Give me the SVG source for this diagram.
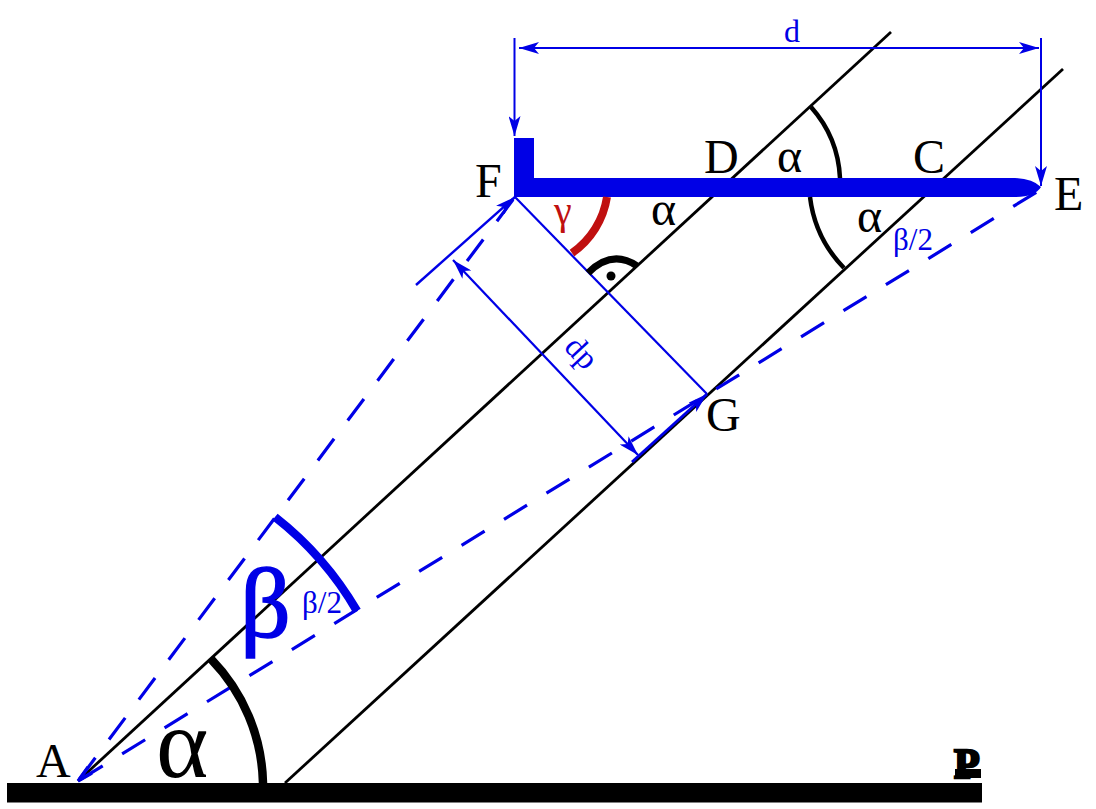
<svg xmlns="http://www.w3.org/2000/svg" width="1096" height="809" viewBox="0 0 1096 809">
<style>
text{font-family:"Liberation Serif","Times New Roman",serif}
.lbl{font-size:48px;fill:#000}
.blue{fill:#0000e6}
.thin{fill:none;stroke:#000;stroke-width:2.8}
.arc{fill:none;stroke:#000}
.dim{fill:none;stroke:#0000e6;stroke-width:1.8;marker-end:url(#ah)}
.dash{fill:none;stroke:#0000e6;stroke-width:3.2;stroke-dasharray:27 22.8;stroke-dashoffset:-2}
</style>
<defs>
<marker id="ah" viewBox="0 0 20 12" refX="20" refY="6" markerUnits="userSpaceOnUse" markerWidth="20" markerHeight="12" orient="auto-start-reverse">
<path d="M0 0L20 6L0 12L5 6Z" fill="#0000e6"/>
</marker>
</defs>
<rect width="1096" height="809" fill="#fff"/>
<g id="ground"><rect x="7" y="783" width="975" height="19.5" fill="#000"/></g>
<g id="connectors">
<path class="thin" d="M78 781L891 32"/>
<path class="thin" d="M285 783L1063 69"/>
<path class="dash" d="M78 781L515 197"/>
<path class="dash" d="M78 781L1040 190"/>
<path d="M78 781L88 767M78 781L92 773" fill="none" stroke="#0000e6" stroke-width="3.2"/>
<path class="dim" style="stroke-width:2.4" d="M416 285L515 197"/>
<path class="dim" style="stroke-width:3" d="M632 462L707 394"/>
<path fill="none" stroke="#0000e6" stroke-width="2.2" d="M515 197L707 394"/>
<path class="dim" style="marker-start:url(#ah);stroke-width:2.2" d="M453 260L638 455"/>
<path class="dim" style="marker-start:url(#ah);stroke-width:2" d="M519 48L1039 48"/>
<path class="dim" style="stroke-width:2" d="M514.5 38L514.5 136"/>
<path class="dim" style="stroke-width:2" d="M1041 38L1041 186"/>
</g>
<g id="bar">
<path class="blue" d="M514 138H534V178H1015Q1033 179 1041 187Q1035 197 1015 197H514Z"/>
</g>
<g id="angles">
<path class="arc" stroke-width="8" style="stroke:#c01010" d="M607 197A84 84 0 0 1 572 253"/>
<path class="arc" stroke-width="8.5" d="M211 659A184 184 0 0 1 263 783"/>
<path class="arc" stroke-width="4.5" d="M811 107A115 115 0 0 1 840 178"/>
<path class="arc" stroke-width="4.5" d="M810 197A123 123 0 0 0 844 268"/>
<path class="arc" stroke-width="7" d="M588 273Q612 249 637 266"/>
<circle cx="611" cy="276" r="4.5" fill="#000"/>
<path class="arc" stroke-width="8.5" style="stroke:#0000e6" d="M275 517A330 330 0 0 1 357 611"/>
</g>
<g id="labels">
<text class="lbl" x="475" y="197">F</text>
<text class="lbl" x="704" y="173">D</text>
<text class="lbl" x="913" y="173">C</text>
<text class="lbl" x="1054" y="210">E</text>
<text class="lbl" x="706" y="431">G</text>
<text class="lbl" x="36" y="777">A</text>
<text class="lbl" x="777" y="172">α</text>
<text class="lbl" x="857" y="232">α</text>
<text class="lbl" x="651" y="225">α</text>
<text x="156" y="777" font-size="100">α</text>
<text class="blue" x="240" y="637" font-size="100" stroke="#0000e6" stroke-width="1.5">β</text>
<text x="554" y="224" font-size="40" fill="#c01010">γ</text>
<text class="blue" x="784" y="42" font-size="32">d</text>
<text class="blue" x="893" y="250" font-size="31">β/2</text>
<text class="blue" x="302" y="613" font-size="31">β/2</text>
<text class="blue" font-size="32" transform="translate(563 348) rotate(47)">dp</text>
<text x="954" y="778" font-size="42" font-weight="bold" stroke="#000" stroke-width="2.5">P</text>
<rect x="955" y="769" width="26" height="9" fill="#000"/>
</g>
</svg>
